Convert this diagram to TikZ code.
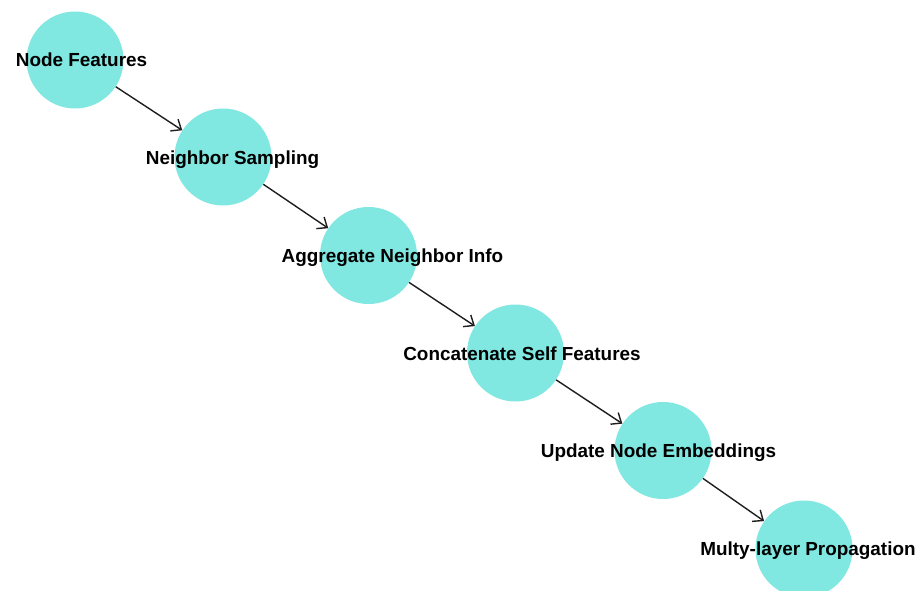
\documentclass[tikz,border=0pt]{standalone}
\usepackage{fontspec}
\setmainfont{Liberation Sans}
\usetikzlibrary{arrows.meta}
\definecolor{nodefill}{RGB}{128,231,225}
\definecolor{edgecol}{RGB}{30,30,30}
\tikzset{
  vert/.style={circle, fill=nodefill, draw=none, minimum size=97pt, inner sep=0pt},
  lbl/.style={font=\fontsize{18.9}{22}\selectfont\bfseries, text=black, inner sep=0pt, anchor=base},
  edge/.style={draw=edgecol, line width=1.4pt, -{Straight Barb[length=8.5pt,width=14pt,line width=1.4pt]}}
}
\begin{document}
\begin{tikzpicture}[x=1pt,y=-1pt]
\path[use as bounding box] (0,0) rectangle (920,591);
\begin{scope}
\clip (0,0) rectangle (920,591);
\node[vert] (c1) at (75,60) {};
\node[vert] (c2) at (223,157) {};
\node[vert] (c3) at (368.5,255.5) {};
\node[vert] (c4) at (515.5,353) {};
\node[vert] (c5) at (663,450.5) {};
\node[vert] (c6) at (804,549) {};
\end{scope}
\draw[edge] (c1) -- (c2);
\draw[edge] (c2) -- (c3);
\draw[edge] (c3) -- (c4);
\draw[edge] (c4) -- (c5);
\draw[edge] (c5) -- (c6);
\node[lbl] (t1) at (81.5,67) {Node Features};
\node[lbl] (t2) at (232.5,164) {Neighbor Sampling};
\node[lbl] (t3) at (392.5,262.5) {Aggregate Neighbor Info};
\node[lbl] (t4) at (522,360) {Concatenate Self Features};
\node[lbl] (t5) at (658.5,457.5) {Update Node Embeddings};
\node[lbl] (t6) at (808,555.5) {Multy-layer Propagation};
\end{tikzpicture}
\end{document}
